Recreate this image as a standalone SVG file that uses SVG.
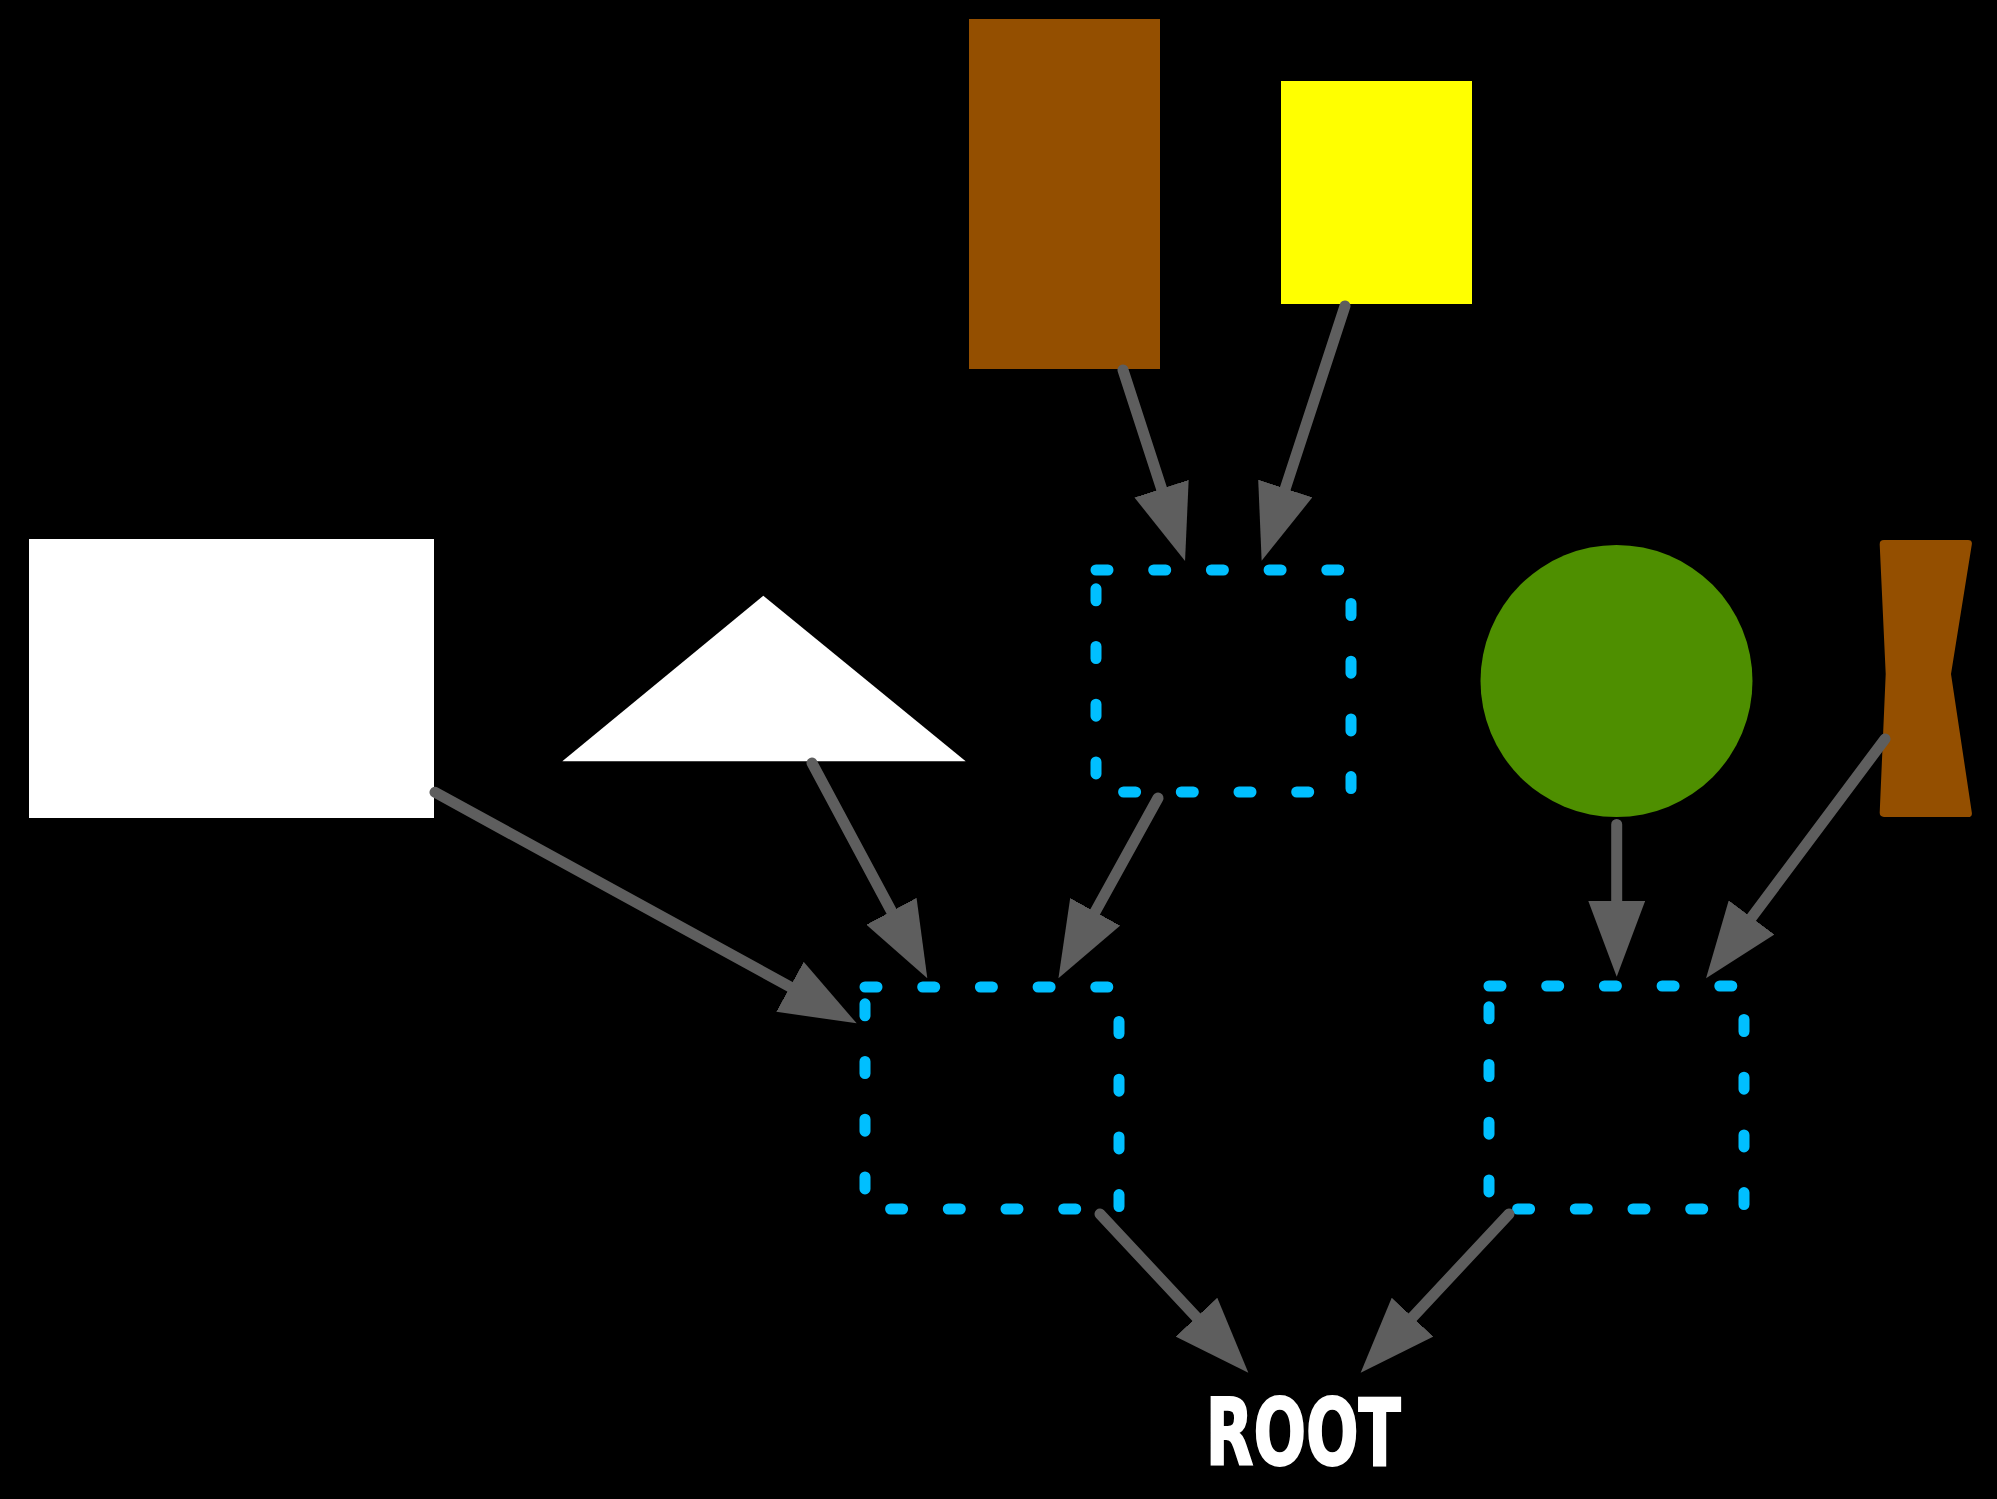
<svg xmlns="http://www.w3.org/2000/svg" width="1997" height="1499" viewBox="0 0 1997 1499">
<defs>
<style>
.cl{fill:none;stroke:#00bfff;stroke-width:11;stroke-dasharray:12 45.7;stroke-linecap:round}
.e{fill:none;stroke:#5e5e5e;stroke-width:11;stroke-linecap:round;marker-end:url(#arr)}
</style>
<marker id="arr" markerUnits="userSpaceOnUse" viewBox="0 0 76 57" refX="26" refY="28.5" markerWidth="76" markerHeight="57" orient="auto"><path d="M0,0 L76,28.5 L0,57 z" fill="#5e5e5e"/></marker>
</defs>
<rect x="0" y="0" width="1997" height="1499" fill="#000"/>
<g id="cluster1"><rect class="cl" x="1096" y="570" width="255" height="222"/></g>
<g id="cluster2"><rect class="cl" x="865" y="987" width="254" height="222"/></g>
<g id="cluster3"><rect class="cl" x="1489" y="986" width="255" height="223"/></g>
<g id="whiteRect"><rect x="29" y="539" width="405" height="279" fill="#fff"/></g>
<g id="triangle"><polygon points="763.3,595.7 965.7,761.3 562.3,761.3" fill="#fff"/></g>
<g id="brownRect"><rect x="969" y="19" width="191" height="350" fill="#944f00"/></g>
<g id="yellowRect"><rect x="1281" y="81" width="191" height="223" fill="#ffff00"/></g>
<g id="greenCircle"><circle cx="1616.5" cy="681" r="136" fill="#4e8f00"/></g>
<g id="bowtie"><path d="M1884,540 L1968,540 Q1972.5,540 1971.8,544.5 L1951,674 L1971.8,812.5 Q1972.5,817 1968,817 L1884,817 Q1879.5,817 1879.7,812.5 L1885.7,674 L1879.7,544.5 Q1879.5,540 1884,540 Z" fill="#944f00"/></g>
<g id="root"><text x="1303.3" y="1465" text-anchor="middle" font-family="'DejaVu Sans','Liberation Sans',sans-serif" font-weight="bold" font-stretch="condensed" font-size="92" textLength="195" lengthAdjust="spacingAndGlyphs" fill="#fff" stroke="#fff" stroke-width="2">ROOT</text></g>
<g id="connectors">
<path class="e" d="M1123,370 L1169.6,513.4"/>
<path class="e" d="M1345,306 L1277.2,513.2"/>
<path class="e" d="M1158,798 L1082.6,934.6"/>
<path class="e" d="M435,792.3 L812.8,999.3"/>
<path class="e" d="M812,763 L903.7,934.2"/>
<path class="e" d="M1616.7,824.5 L1616.7,926.7"/>
<path class="e" d="M1885,739 L1736,938.3"/>
<path class="e" d="M1100,1214 L1214.2,1336.2"/>
<path class="e" d="M1509,1214 L1394.8,1336.2"/>
</g>
</svg>
